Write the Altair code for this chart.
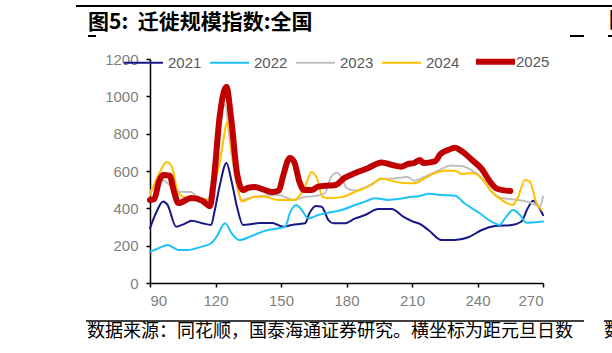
import altair as alt
import pandas as pd

# ---- data (x = days since New Year) ----
years = ["2021", "2022", "2023", "2024", "2025"]

d2021 = [90, 93, 96, 98, 102, 106, 109, 114, 118, 119.5, 122, 125, 127.4, 130, 132.6, 136, 140, 146, 151, 155,
         161, 163, 166, 168.6, 171.7, 174, 179, 184, 188.5, 194.6, 200.7, 206, 210.6, 213, 217.5, 223.6, 229.7,
         235.8, 242, 248, 255.7, 260, 263, 265.5, 268, 270]
v2021 = [294, 382, 436, 418, 302, 318, 334, 320, 311, 380, 525, 643, 543, 400, 311, 315, 321, 321, 302, 311,
         320, 373, 412, 409, 337, 320, 320, 346, 364, 396, 396, 355, 328, 320, 284, 230, 230,
         245, 284, 305, 311, 328, 400, 441, 409, 364]

d2022 = [90, 94, 98, 103, 107, 113.7, 118, 120.5, 124.4, 127.4, 131, 136.6, 142.7, 148.8, 152, 154, 157, 159.5,
         162.5, 167, 173, 177.8, 184, 188.5, 193, 199, 205, 210, 213, 218, 223.6, 229.7, 234, 240, 246.5, 250,
         252.6, 256.3, 259.5, 262.5, 268, 270]
v2022 = [168, 186, 204, 177, 177, 195, 213, 248, 320, 266, 230, 252, 280, 293, 302, 373, 418, 391,
         346, 364, 379, 391, 418, 436, 454, 445, 452, 462, 465, 478, 471, 468, 427, 382, 328, 311,
         346, 391, 364, 323, 327, 330]

d2023 = [90, 95.4, 99, 103, 109, 112, 116.6, 119, 122, 124.4, 126.6, 129.7, 132, 138, 148.6, 156, 161, 165.6,
         170, 173, 175.5, 178, 180, 184, 191.5, 196, 202, 208, 211, 216, 222, 228, 232.8, 237.3, 242, 246.5,
         251, 258.6, 265, 268.6, 270]
v2023 = [489, 552, 525, 489, 487, 455, 450, 616, 884, 953, 757, 525, 445, 462, 471, 445, 462, 466,
         480, 569, 591, 562, 509, 495, 530, 558, 560, 568, 548, 569, 602, 630, 627, 605, 562, 489,
         455, 445, 428, 409, 462]

d2024 = [90, 94.6, 97.6, 100, 103, 107, 111, 116.6, 119, 122, 125.6, 127.4, 129.7, 132, 138, 142.7, 148.6, 156,
         161, 164, 166.4, 169, 171.5, 177.8, 184, 191.5, 196, 202, 208, 211, 216, 220.5, 225, 229.7, 233, 238,
         242.5, 246.5, 251, 256, 258.6, 261.7, 264, 267, 269.4]
v2024 = [471, 596, 648, 623, 482, 457, 457, 445, 509, 650, 864, 703, 543, 436, 462, 462, 445, 445,
         516, 594, 562, 462, 455, 460, 489, 525, 560, 543, 535, 535, 562, 589, 602, 602, 584, 589,
         552, 489, 445, 418, 462, 552, 543, 428, 391]

d2025 = [90, 92, 94, 96, 99, 101, 103, 109, 114, 117.5, 119, 122, 125, 127, 130, 132.6, 135, 138, 142, 146, 149,
         151, 154, 156, 158.5, 160.5, 164, 167, 172, 175, 179, 184, 190, 196, 201, 205, 208, 211, 213.7, 215,
         220.5, 223, 226.5, 229.7, 232, 234, 237.5, 242, 245.7, 249, 255]
v2025 = [445, 450, 540, 578, 575, 490, 428, 455, 440, 412, 525, 900, 1052, 900, 578, 498, 510, 514, 500, 487, 495,
         575, 670, 650, 540, 498, 498, 516, 522, 525, 562, 589, 616, 646, 632, 623, 637, 643, 659, 643,
         652, 690, 712, 725, 712, 696, 659, 610, 543, 505, 493]

y_ticks = [0, 200, 400, 600, 800, 1000, 1200]
x_ticks = [90, 120, 150, 180, 210, 240, 270]
colors = ["#17178A", "#1EC3F5", "#C0C0C0", "#FFC000", "#C00000"]
widths = [2, 2, 2, 2, 6]

title_text = "图5:\u00a0\u00a0迁徙规模指数:全国"
footer_text = "数据来源：同花顺，国泰海通证券研究。横坐标为距元旦日数"

rows = []
for yr, ds, vs in zip(years, [d2021, d2022, d2023, d2024, d2025], [v2021, v2022, v2023, v2024, v2025]):
    for d, v in zip(ds, vs):
        rows.append({"year": yr, "day": d, "value": v})
df = pd.DataFrame(rows)

W, H = 393, 224
OX, OY = 150, 59
FONT_CJK = "Noto Sans CJK SC"
FONT_LAT = "Liberation Sans"

legend = alt.Legend(
    title=None, orient="none", legendX=-27, legendY=-20, direction="horizontal",
    symbolType="stroke", symbolSize=1521,
    symbolStrokeWidth=alt.ExprRef(expr="datum.value === '2025' ? 6 : 2"),
    labelOffset=alt.ExprRef(expr="datum.value === '2025' ? -2 : 4"),
    labelFontSize=15, labelFont=FONT_LAT,
    labelColor="#595959", columnPadding=4, padding=0,
)

lines = alt.Chart(df).mark_line(interpolate="monotone", strokeCap="round", strokeJoin="round").encode(
    x=alt.X("day:Q", scale=alt.Scale(domain=[90, 270], nice=False, zero=False),
            axis=alt.Axis(values=x_ticks, title=None, grid=False, labelFontSize=15, labelColor="#7F7F7F",
                          labelFont=FONT_LAT, domainColor="#000000", domainWidth=1.5, tickColor="#000000",
                          tickSize=4, tickWidth=1.5, labelPadding=6, format="d")),
    y=alt.Y("value:Q", scale=alt.Scale(domain=[0, 1200], nice=False),
            axis=alt.Axis(values=y_ticks, title=None, grid=False, labelFontSize=15, labelColor="#7F7F7F",
                          labelFont=FONT_LAT, domainColor="#000000", domainWidth=1.5, tickColor="#000000",
                          tickSize=4, tickWidth=1.5, labelPadding=8, format="d")),
    color=alt.Color("year:N", scale=alt.Scale(domain=years, range=colors), legend=legend),
    strokeWidth=alt.StrokeWidth("year:N", scale=alt.Scale(type="ordinal", domain=years, range=widths),
                                legend=None),
)

# page decorations (title, rules, footer)
deco_df = pd.DataFrame({"k": [0]})
title = alt.Chart(deco_df).mark_text(text=title_text, align="left", baseline="middle", font=FONT_CJK,
                                     fontSize=21, fontWeight="bold", color="#000000").encode(
    x=alt.value(88 - OX), y=alt.value(23 - OY))
title_r = alt.Chart(deco_df).mark_text(text="图6:", align="left", baseline="middle", font=FONT_CJK,
                                       fontSize=21, fontWeight="bold", color="#000000").encode(
    x=alt.value(609 - OX), y=alt.value(21 - OY))
top_rule = alt.Chart(deco_df).mark_rule(color="#000000", strokeWidth=2).encode(
    x=alt.value(76 - OX), x2=alt.value(612 - OX), y=alt.value(6 - OY))
dash1 = alt.Chart(deco_df).mark_rule(color="#000000", strokeWidth=2).encode(
    x=alt.value(88 - OX), x2=alt.value(96 - OX), y=alt.value(36 - OY))
dash2 = alt.Chart(deco_df).mark_rule(color="#000000", strokeWidth=2).encode(
    x=alt.value(570 - OX), x2=alt.value(584 - OX), y=alt.value(36 - OY))
dash3 = alt.Chart(deco_df).mark_rule(color="#000000", strokeWidth=2).encode(
    x=alt.value(608 - OX), x2=alt.value(612 - OX), y=alt.value(36 - OY))
foot_rule = alt.Chart(deco_df).mark_rule(color="#000000", strokeWidth=1.5).encode(
    x=alt.value(86 - OX), x2=alt.value(584 - OX), y=alt.value(321 - OY))
foot_rule2 = alt.Chart(deco_df).mark_rule(color="#000000", strokeWidth=1.5).encode(
    x=alt.value(604 - OX), x2=alt.value(612 - OX), y=alt.value(321 - OY))
footer = alt.Chart(deco_df).mark_text(text=footer_text, align="left", baseline="middle", font=FONT_CJK,
                                      fontSize=18, color="#000000").encode(
    x=alt.value(87 - OX), y=alt.value(332 - OY))
footer_r = alt.Chart(deco_df).mark_text(text="数据", align="left", baseline="middle", font=FONT_CJK,
                                        fontSize=18, color="#000000").encode(
    x=alt.value(604 - OX), y=alt.value(332 - OY))

chart = alt.layer(lines, title, title_r, top_rule, dash1, dash2, dash3, foot_rule, foot_rule2, footer, footer_r).properties(
    width=W, height=H,
    autosize=alt.AutoSizeParams(type="none"),
    padding={"left": OX, "top": OY, "right": 612 - OX - W, "bottom": 353 - OY - H},
    background="#FFFFFF",
).configure_view(stroke=None)

chart.save("out.html", embed_options={"renderer": "svg", "actions": False})
